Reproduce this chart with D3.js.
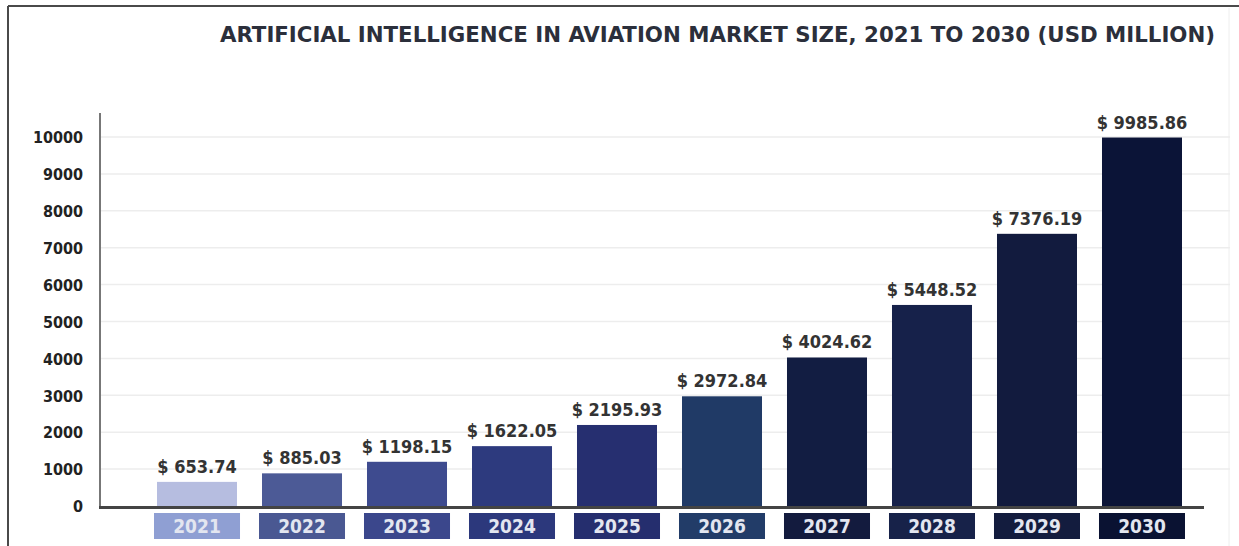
<!DOCTYPE html>
<html>
<head>
<meta charset="utf-8">
<script src="https://cdn.jsdelivr.net/npm/d3@7"></script>
<style>
  body { margin: 0; background: #fff; }
  text { font-family: "Liberation Sans Narrow", "DejaVu Sans Condensed", "Liberation Sans", sans-serif; font-weight: bold; }
</style>
</head>
<body>
<div id="chart"></div>
<script>
// Chart data
const years = ["2021", "2022", "2023", "2024", "2025", "2026", "2027", "2028", "2029", "2030"];
const marketSize = [653.74, 885.03, 1198.15, 1622.05, 2195.93, 2972.84, 4024.62, 5448.52, 7376.19, 9985.86];
const yTicks = [0, 1000, 2000, 3000, 4000, 5000, 6000, 7000, 8000, 9000, 10000];
const barColors = ["#b6bde0", "#4c5a96", "#3e4b8f", "#2d3a7e", "#262f70", "#203a66", "#121d42", "#16214a", "#121b3e", "#0b1437"];
const boxColors = ["#8f9fd3", "#4a5892", "#3b478c", "#2c387c", "#252e6e", "#223c68", "#131b3e", "#172249", "#131c3e", "#0a1232"];
const title = "ARTIFICIAL INTELLIGENCE IN AVIATION MARKET SIZE, 2021 TO 2030 (USD MILLION)";

const width = 1239, height = 546;

const svg = d3.select("#chart")
    .append("svg")
    .attr("width", width)
    .attr("height", height);

// Frame
svg.append("line").attr("x1", 8).attr("x2", width).attr("y1", 6).attr("y2", 6)
    .attr("stroke", "#4a4a4a").attr("stroke-width", 2);
svg.append("line").attr("x1", 8).attr("x2", 8).attr("y1", 6).attr("y2", height)
    .attr("stroke", "#4a4a4a").attr("stroke-width", 2);
svg.append("line").attr("x1", 1229).attr("x2", 1229).attr("y1", 8).attr("y2", height)
    .attr("stroke", "#eeeeee").attr("stroke-width", 1);

// Title
svg.append("text")
    .attr("x", 220)
    .attr("y", 42)
    .attr("textLength", 995)
    .attr("lengthAdjust", "spacingAndGlyphs")
    .style("font-size", "21px")
    .style("fill", "#2b2f3b")
    .text(title);

// Scales
const x = d3.scaleBand()
    .domain(years)
    .range([157, 1182])
    .paddingInner(0.238)
    .paddingOuter(0);

const y = d3.scaleLinear()
    .domain([0, 10000])
    .range([506, 137]);

// Gridlines
svg.append("g")
    .selectAll("line")
    .data(yTicks.slice(1))
    .enter()
    .append("line")
    .attr("x1", 101)
    .attr("x2", 1230)
    .attr("y1", d => y(d))
    .attr("y2", d => y(d))
    .attr("stroke", "#ededed")
    .attr("stroke-width", 1.5);

// Y axis labels
const yAxis = svg.append("g")
    .attr("transform", "translate(100,0)")
    .call(d3.axisLeft(y).tickValues(yTicks).tickSize(0).tickPadding(17).tickFormat(d3.format("d")));
yAxis.select(".domain").remove();
yAxis.selectAll("text")
    .style("font-size", "16px")
    .style("fill", "#222")
    .attr("dy", "0.36em");

// Y axis line
svg.append("line").attr("x1", 100).attr("x2", 100).attr("y1", 113).attr("y2", 508)
    .attr("stroke", "#777").attr("stroke-width", 2);

// Bars
svg.append("g")
    .selectAll("rect")
    .data(years)
    .enter()
    .append("rect")
    .attr("x", d => x(d))
    .attr("y", (d, i) => y(marketSize[i]))
    .attr("width", x.bandwidth())
    .attr("height", (d, i) => y(0) - y(marketSize[i]))
    .attr("fill", (d, i) => barColors[i]);

// Baseline
svg.append("line").attr("x1", 99).attr("x2", 1204).attr("y1", 507.5).attr("y2", 507.5)
    .attr("stroke", "#444").attr("stroke-width", 3);

// Value labels
svg.append("g")
    .selectAll("text")
    .data(years)
    .enter()
    .append("text")
    .attr("x", d => x(d) + x.bandwidth() / 2)
    .attr("y", (d, i) => y(marketSize[i]) - 9)
    .attr("text-anchor", "middle")
    .style("font-size", "18px")
    .style("fill", "#333")
    .text((d, i) => "$ " + d3.format(".2f")(marketSize[i]));

// Category boxes
const boxes = svg.append("g")
    .selectAll("g")
    .data(years)
    .enter()
    .append("g");

boxes.append("rect")
    .attr("x", d => x(d) - 3)
    .attr("y", 513)
    .attr("width", x.bandwidth() + 6)
    .attr("height", 26)
    .attr("fill", (d, i) => boxColors[i]);

boxes.append("text")
    .attr("x", d => x(d) + x.bandwidth() / 2)
    .attr("y", 533)
    .attr("text-anchor", "middle")
    .style("font-size", "19px")
    .style("fill", "#e3e6f0")
    .text(d => d);
</script>
</body>
</html>
